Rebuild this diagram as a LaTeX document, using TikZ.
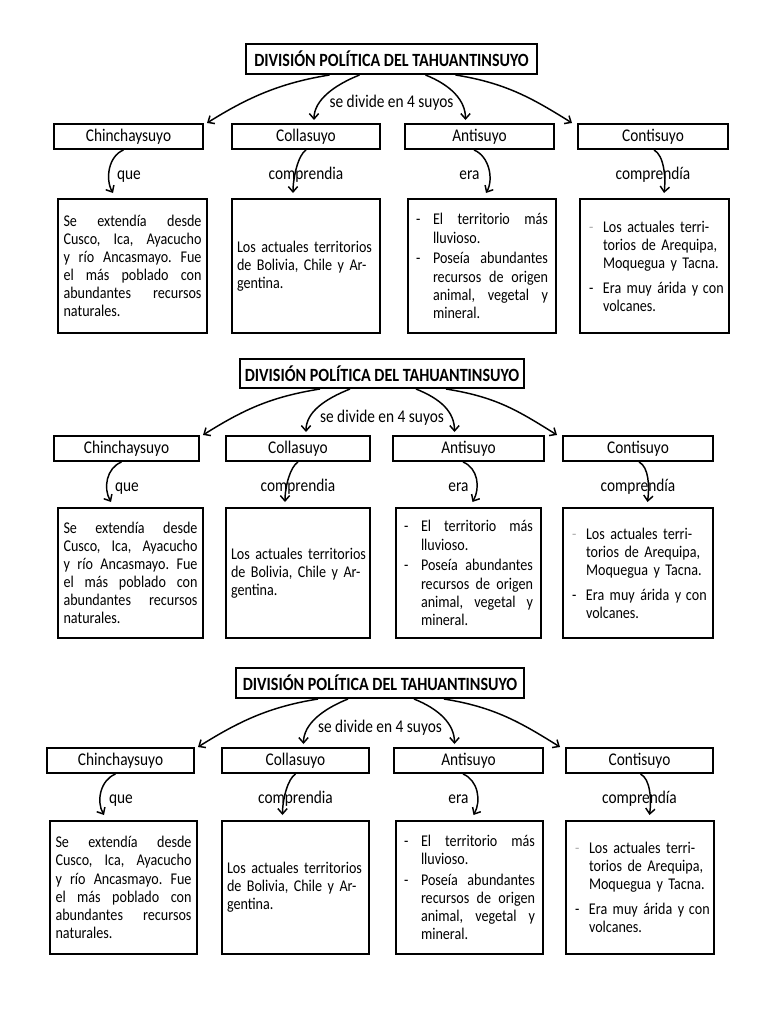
\documentclass[tikz,border=0pt]{standalone}
\usepackage{fontspec}
\setmainfont{Carlito}[FakeStretch=0.86]
\usetikzlibrary{arrows.meta,calc}
\newlength\hangA \setlength\hangA{12.75pt}
\newlength\hangC \setlength\hangC{10.5pt}
\newlength\tw
\def\w{\hskip 0.2em plus 1fil\relax}
\newcommand\jl[1]{\leavevmode\hbox to \tw{#1}}
\newcommand\jh[1]{\leavevmode\hbox to \dimexpr\tw-\hangA\relax{#1}}
\newcommand\chintext{%
\jl{Se\w extendía\w desde}\\%
\jl{Cusco,\w Ica,\w Ayacucho}\\%
\jl{y\w río\w Ancasmayo.\w Fue}\\%
\jl{el\w más\w poblado\w con}\\%
\jl{abundantes\w recursos}\\%
\mbox{naturales.}}
\newcommand\collatext{%
\mbox{Los actuales territorios}\\%
\mbox{de Bolivia, Chile y Ar-}\\%
\mbox{gentina.}}
\newcommand\antitext{%
\makebox[\hangA][l]{-}\jh{El\w territorio\w más}\\%
\hspace*{\hangA}\mbox{lluvioso.}\\[2pt]%
\makebox[\hangA][l]{-}\jh{Poseía\w abundantes}\\%
\hspace*{\hangA}\jh{recursos\w de\w origen}\\%
\hspace*{\hangA}\jh{animal,\w vegetal\w y}\\%
\hspace*{\hangA}\mbox{mineral.}}
\newcommand\contitext{%
\makebox[\hangC][l]{\textcolor{black!30}{-}}\mbox{Los actuales terri-}\\%
\hspace*{\hangC}\mbox{torios de Arequipa,}\\%
\hspace*{\hangC}\mbox{Moquegua y Tacna.}\\[5pt]%
\makebox[\hangC][l]{-}\mbox{Era muy árida y\hspace{-0.5pt} con}\\%
\hspace*{\hangC}\mbox{volcanes.}}
\tikzset{
  titlebox/.style={draw, line width=1.5pt, font=\fontsize{14}{16}\selectfont\bfseries, inner sep=0pt, anchor=north west},
  suyobox/.style={draw, line width=1.5pt, font=\fontsize{13.4}{15}\selectfont, inner sep=0pt, anchor=north west},
  infobox/.style={draw, line width=1.5pt, font=\fontsize{12.3}{13.6}\selectfont, inner sep=0pt, anchor=north west, align=left},
  lbl/.style={font=\fontsize{13.4}{15}\selectfont, inner sep=1pt, anchor=base},
  arr/.style={line width=1.1pt, -{Straight Barb[length=4pt,width=7pt]}},
}
\newcommand\drawcopy[1]{%
\node[titlebox, minimum width={(\gtR-\gtL)*0.75pt}, minimum height={(\gtB-\gtT)*0.75pt}] (#1t) at (\gtL,\gtT) {DIVISIÓN POLÍTICA DEL TAHUANTINSUYO};
\node[suyobox, minimum width={(\gaR-\gaL)*0.75pt}, minimum height={(\glB-\glT)*0.75pt}] (#1s1) at (\gaL,\glT) {Chinchaysuyo};
\node[suyobox, minimum width={(\gbR-\gbL)*0.75pt}, minimum height={(\glB-\glT)*0.75pt}] (#1s2) at (\gbL,\glT) {Collasuyo};
\node[suyobox, minimum width={(\gcR-\gcL)*0.75pt}, minimum height={(\glB-\glT)*0.75pt}] (#1s3) at (\gcL,\glT) {Antisuyo};
\node[suyobox, minimum width={(\gdR-\gdL)*0.75pt}, minimum height={(\glB-\glT)*0.75pt}] (#1s4) at (\gdL,\glT) {Contisuyo};
\setlength\tw{\dimexpr 3pt*(\geR-\geL-11)/4\relax}%
\node[infobox, minimum width={(\geR-\geL)*0.75pt}, minimum height={(\giB-\giT)*0.75pt}, text width=\tw] (#1i1) at (\geL,\giT) {\chintext};
\setlength\tw{\dimexpr 3pt*(\gfR-\gfL-10)/4\relax}%
\node[infobox, minimum width={(\gfR-\gfL)*0.75pt}, minimum height={(\giB-\giT)*0.75pt}, text width=\tw] (#1i2) at (\gfL,\giT) {\collatext};
\setlength\tw{\dimexpr 3pt*(\ggR-\ggL-16)/4\relax}%
\node[infobox, minimum width={(\ggR-\ggL)*0.75pt}, minimum height={(\giB-\giT)*0.75pt}, text width=\tw] (#1i3) at (\ggL,\giT) {\antitext};
\setlength\tw{\dimexpr 3pt*(\ghR-\ghL-18)/4\relax}%
\node[infobox, minimum width={(\ghR-\ghL)*0.75pt}, minimum height={(\giB-\giT)*0.75pt}, text width=\tw] (#1i4) at (\ghL,\giT) {\contitext};
\draw[arr] ($(#1t.south)+(-62,0)$) .. controls +(-50,8) and +(40,-25) .. ($(#1s1.north east)+(3,0)$);
\draw[arr] ($(#1t.south)+(-32,0)$) .. controls +(-25,10) and +(0,-20) .. ($(#1s2.north)+(8,-3)$);
\draw[arr] ($(#1t.south)+(34,0)$) .. controls +(25,10) and +(0,-20) .. ($(#1s3.north)+(-14,-3)$);
\draw[arr] ($(#1t.south)+(64,0)$) .. controls +(50,8) and +(-40,-25) .. ($(#1s4.north west)+(-5,0)$);
\node[lbl] (#1d) at ($(#1t.south)+(0,33)$) {se divide en 4 suyos};
\draw[arr] ($(#1s1.south)+(-5,0)$) .. controls +(-15,6) and +(-8,-14) .. ($(#1i1.north)+(-19.5,-5)$);
\draw[arr] ($(#1s2.south)+(0,0)$) .. controls +(-8,5) and +(0,-15) .. ($(#1i2.north)+(-13,-5)$);
\draw[arr] ($(#1s3.south)+(-5.5,0)$) .. controls +(15,6) and +(8,-14) .. ($(#1i3.north)+(4,-5)$);
\draw[arr] ($(#1s4.south)+(1,0)$) .. controls +(10,5) and +(2,-15) .. ($(#1i4.north)+(9.5,-5)$);
\node[lbl] (#1q1) at ($(#1s1.south)+(0.5,29)$) {que};
\node[lbl] (#1q2) at ($(#1s2.south)+(0,29)$) {comprendia};
\node[lbl] (#1q3) at ($(#1s3.south)+(-10,29)$) {era};
\node[lbl] (#1q4) at ($(#1s4.south)+(0,29)$) {comprendía};
}
\begin{document}
\begin{tikzpicture}[x=0.75pt,y=-0.75pt]
\useasboundingbox (0,0) rectangle (768,1024);
\fill[white] (0,0) rectangle (768,1024);
% copy 1
\def\gtL{245}\def\gtR{536}\def\gtT{43}\def\gtB{73}
\def\glT{123}\def\glB{148}
\def\gaL{53}\def\gaR{202}\def\gbL{231}\def\gbR{379}\def\gcL{404}\def\gcR{553}\def\gdL{577}\def\gdR{727}
\def\giT{198}\def\giB{332}
\def\geL{57}\def\geR{206}\def\gfL{231}\def\gfR{379}\def\ggL{407}\def\ggR{555}\def\ghL{579}\def\ghR{728}
\drawcopy{a}
% copy 2
\def\gtL{239}\def\gtR{523}\def\gtT{358}\def\gtB{387}
\def\glT{435}\def\glB{460}
\def\gaL{53}\def\gaR{198}\def\gbL{225}\def\gbR{369}\def\gcL{392}\def\gcR{543}\def\gdL{562}\def\gdR{712}
\def\giT{507}\def\giB{637}
\def\geL{57}\def\geR{202}\def\gfL{225}\def\gfR{369}\def\ggL{395}\def\ggR{540}\def\ghL{562}\def\ghR{712}
\drawcopy{b}
% copy 3
\def\gtL{235}\def\gtR{523}\def\gtT{667}\def\gtB{697}
\def\glT{747}\def\glB{772}
\def\gaL{46}\def\gaR{193}\def\gbL{221}\def\gbR{368}\def\gcL{393}\def\gcR{542}\def\gdL{565}\def\gdR{712}
\def\giT{820}\def\giB{953}
\def\geL{49}\def\geR{196}\def\gfL{221}\def\gfR{368}\def\ggL{395}\def\ggR{542}\def\ghL{565}\def\ghR{713}
\drawcopy{c}
\end{tikzpicture}
\end{document}
